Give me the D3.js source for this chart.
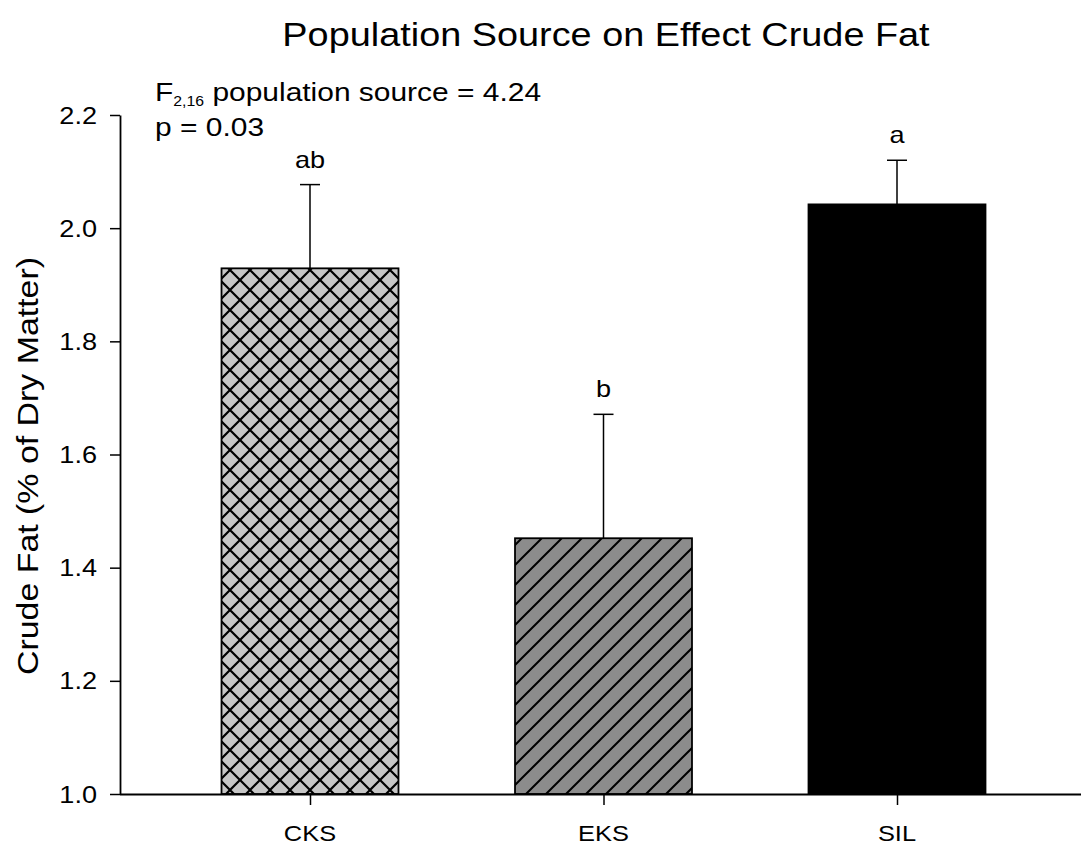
<!DOCTYPE html>
<html>
<head>
<meta charset="utf-8">
<script src="https://cdn.jsdelivr.net/npm/d3@7"></script>
<style>
  html, body { margin: 0; padding: 0; background: #fff; }
  svg { display: block; font-family: "Liberation Sans", Arial, sans-serif; }
</style>
</head>
<body>
<svg id="chart" width="1081" height="848"></svg>
<script>
// Crude fat by population source (mean + SE)
const categories = ["CKS", "EKS", "SIL"];
const means = [1.929, 1.452, 2.042];
const errors = [0.148, 0.219, 0.078];
const groupLetters = ["ab", "b", "a"];
const yTicks = [1.0, 1.2, 1.4, 1.6, 1.8, 2.0, 2.2];

// Text in this figure is set slightly wide
const WIDE = 1.13;

const svg = d3.select("#chart");

const y = d3.scaleLinear().domain([1.0, 2.2]).range([794, 115]);
const x = d3.scalePoint().domain(categories).range([310, 897]);
const barW = x.step() * 0.603;

function label(g, px, py, size, anchor, str, rot) {
  return g.append("text")
    .attr("transform", `translate(${px},${py})${rot ? ` rotate(${rot})` : ""} scale(${WIDE},1)`)
    .attr("text-anchor", anchor).attr("font-size", size).attr("fill", "#000")
    .text(str);
}

// Fill patterns
const defs = svg.append("defs");
const cross = defs.append("pattern")
  .attr("id", "crossHatch").attr("patternUnits", "userSpaceOnUse")
  .attr("width", 20).attr("height", 20);
cross.append("rect").attr("width", 20).attr("height", 20).attr("fill", "#c6c6c6");
cross.append("path")
  .attr("d", "M0,0L20,20M0,20L20,0M-5,5L5,-5M15,25L25,15M-5,15L5,25M15,-5L25,5")
  .attr("stroke", "#000").attr("stroke-width", 2.2).attr("fill", "none");

const diag = defs.append("pattern")
  .attr("id", "diagHatch").attr("patternUnits", "userSpaceOnUse")
  .attr("width", 20).attr("height", 20);
diag.append("rect").attr("width", 20).attr("height", 20).attr("fill", "#8c8c8c");
diag.append("path")
  .attr("d", "M0,20L20,0M-5,5L5,-5M15,25L25,15")
  .attr("stroke", "#000").attr("stroke-width", 2).attr("fill", "none");

const fills = ["url(#crossHatch)", "url(#diagHatch)", "#000"];

// Bars
svg.append("g").selectAll("rect").data(categories).join("rect")
  .attr("x", d => x(d) - barW / 2)
  .attr("y", (d, i) => y(means[i]))
  .attr("width", barW)
  .attr("height", (d, i) => y(1.0) - y(means[i]))
  .attr("fill", (d, i) => fills[i])
  .attr("stroke", "#000").attr("stroke-width", 1.8);

// Upper error bars with group letters
const eb = svg.append("g").attr("stroke", "#000").attr("stroke-width", 1.5);
categories.forEach((c, i) => {
  const top = y(means[i] + errors[i]);
  eb.append("line").attr("x1", x(c)).attr("x2", x(c))
    .attr("y1", y(means[i])).attr("y2", top);
  eb.append("line").attr("x1", x(c) - 10).attr("x2", x(c) + 10)
    .attr("y1", top).attr("y2", top);
  label(svg, x(c), top - 17, 24, "middle", groupLetters[i]);
});

// Y axis
const yAxis = svg.append("g").attr("transform", "translate(120,0)")
  .call(d3.axisLeft(y).tickValues(yTicks).tickFormat(d3.format(".1f")).tickSize(10).tickSizeOuter(0));
yAxis.select(".domain").attr("stroke-width", 1.8);
yAxis.selectAll(".tick line").attr("stroke-width", 1.5);
yAxis.selectAll(".tick text").remove();
yTicks.forEach(t => label(svg, 97, y(t) + 8.5, 24, "end", d3.format(".1f")(t)));

// X axis
const xAxis = svg.append("g").attr("transform", `translate(0,${y(1.0)})`)
  .call(d3.axisBottom(x).tickSize(11).tickSizeOuter(0));
xAxis.select(".domain").attr("d", `M120,0.5H1081`).attr("stroke-width", 1.8);
xAxis.selectAll(".tick line").attr("stroke-width", 1.5);
xAxis.selectAll(".tick text").remove();
categories.forEach(c => label(svg, x(c), 841, 22.5, "middle", c));

// Title
label(svg, 606, 46, 33.5, "middle", "Population Source on Effect Crude Fat");

// Y axis title
label(svg, 38, 466, 30, "middle", "Crude Fat (% of Dry Matter)", -90);

// Statistics annotation
const stat = svg.append("text")
  .attr("transform", `translate(155,101) scale(${WIDE},1)`).attr("font-size", 26.5);
stat.append("tspan").text("F");
stat.append("tspan").attr("font-size", 14).attr("dy", 5).text("2,16");
stat.append("tspan").attr("dy", -5).text(" population source = 4.24");
label(svg, 155, 136, 26.5, "start", "p = 0.03");
</script>
</body>
</html>
